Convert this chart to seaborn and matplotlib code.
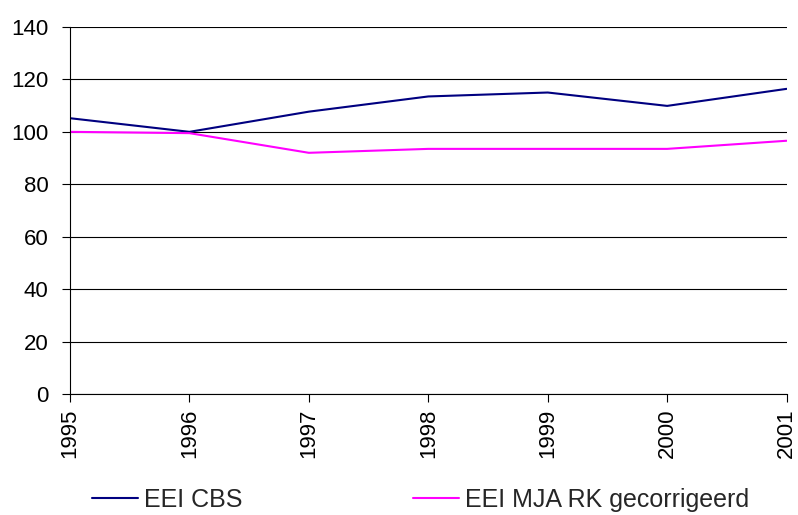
import seaborn as sns
import matplotlib.pyplot as plt
import pandas as pd

years = [1995, 1996, 1997, 1998, 1999, 2000, 2001]
eei_cbs = [105.2, 100.0, 107.7, 113.5, 115.0, 109.9, 116.4]
eei_mja = [100.0, 99.5, 92.0, 93.5, 93.5, 93.5, 96.6]
series_names = ["EEI CBS", "EEI MJA RK gecorrigeerd"]

df = pd.DataFrame({"jaar": years, series_names[0]: eei_cbs, series_names[1]: eei_mja})
df = df.melt(id_vars="jaar", var_name="reeks", value_name="waarde")

sns.set_style("white")
plt.rcParams['font.family'] = ['Liberation Sans', 'DejaVu Sans']

fig = plt.figure(figsize=(7.98, 5.15), dpi=100)
ax = fig.add_axes([0.0877, 0.235, 0.898, 0.7126])

sns.lineplot(data=df, x="jaar", y="waarde", hue="reeks",
             palette=["#000080", "#FF00FF"], linewidth=1.5, ax=ax, legend=False)

ax.set_xlim(1995, 2001)
ax.set_ylim(0, 140)
ax.set_yticks(range(0, 141, 20))
ax.set_xticks(years)
ax.set_xticklabels([str(y) for y in years], rotation=90)
ax.yaxis.grid(True, color="black", linewidth=0.8)
ax.set_axisbelow(True)
ax.set_xlabel("")
ax.set_ylabel("")
for s in ["top", "right"]:
    ax.spines[s].set_visible(False)
for s in ["left", "bottom"]:
    ax.spines[s].set_color("black")
    ax.spines[s].set_linewidth(0.8)
ax.tick_params(axis="both", labelsize=16, colors="black", direction="out",
               length=5.5, width=0.8, left=True, bottom=True)
ax.tick_params(axis="y", pad=10)
ax.tick_params(axis="x", pad=5)

handles = [plt.Line2D([], [], color=c, linewidth=1.5) for c in ["#000080", "#FF00FF"]]
fig.legend(handles, series_names, loc="center", bbox_to_anchor=(0.527, 0.029),
           ncol=2, frameon=False, handlelength=1.84,
           columnspacing=6.8, handletextpad=0.25, fontsize=18)

fig.savefig("out.png", dpi=100)
